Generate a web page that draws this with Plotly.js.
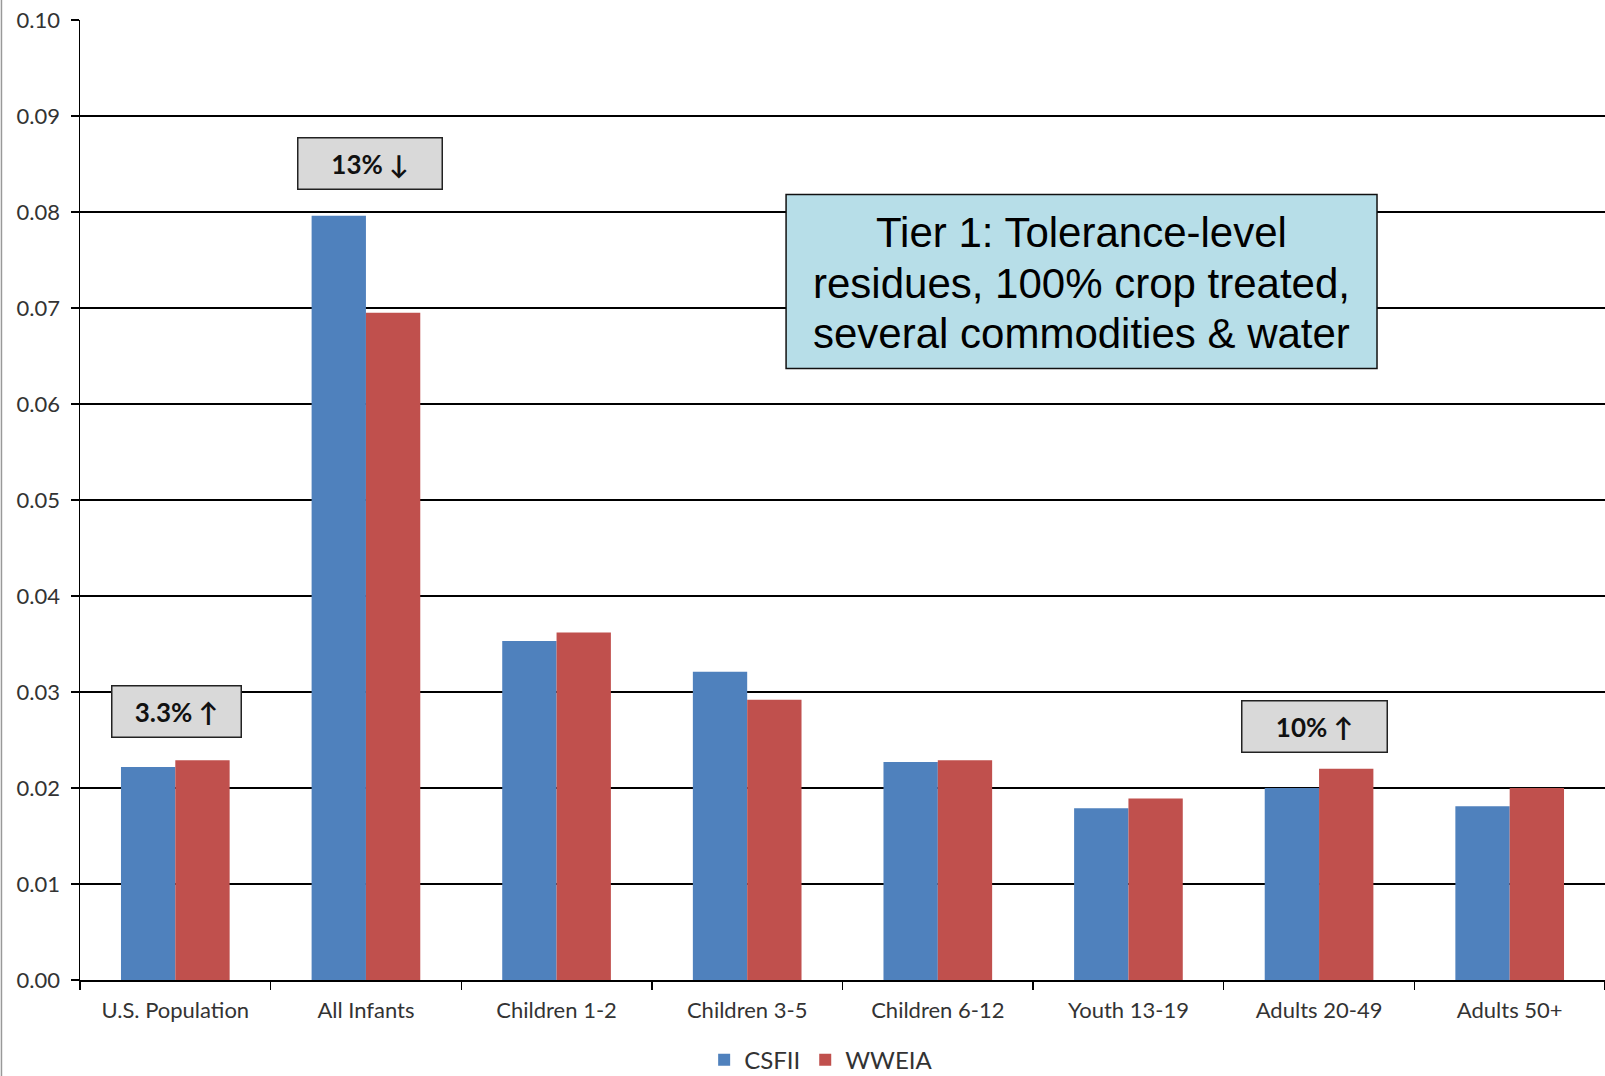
<!DOCTYPE html>
<html>
<head>
<meta charset="utf-8">
<script src="https://cdn.plot.ly/plotly-3.0.1.min.js"></script>
<style>html,body{margin:0;padding:0;background:#fff;}#chart{width:1605px;height:1076px;}</style>
</head>
<body>
<div id="chart"></div>
<script>
const categories = ["U.S. Population", "All Infants", "Children 1-2", "Children 3-5", "Children 6-12", "Youth 13-19", "Adults 20-49", "Adults 50+"];
const csfii = [0.0222, 0.0796, 0.0353, 0.0321, 0.0227, 0.0179, 0.0200, 0.0181];
const wweia = [0.0229, 0.0695, 0.0362, 0.0292, 0.0229, 0.0189, 0.0220, 0.0200];
const seriesNames = ["CSFII", "WWEIA"];
const yTicks = [0, 0.01, 0.02, 0.03, 0.04, 0.05, 0.06, 0.07, 0.08, 0.09, 0.10];
const yTickText = ["0.00", "0.01", "0.02", "0.03", "0.04", "0.05", "0.06", "0.07", "0.08", "0.09", "0.10"];
const notes = ["13% \u2193", "3.3% \u2191", "10% \u2191"];
const boxLines = ["Tier 1: Tolerance-level", "residues, 100% crop treated,", "several commodities &amp; water"];

const tickFont = {family: "Lato, 'Open Sans', sans-serif", size: 22, color: "#333"};

const traces = [
  {type: "bar", name: seriesNames[0], x: categories, y: csfii, marker: {color: "#4F81BD"}},
  {type: "bar", name: seriesNames[1], x: categories, y: wweia, marker: {color: "#C0504D"}}
];

function noteBox(text, x, y, w, h) {
  return {
    text: "<b>" + text + "</b>", xref: "paper", yref: "paper", x: x, y: y,
    xanchor: "center", yanchor: "middle", showarrow: false,
    width: w - 3, height: h - 3, bgcolor: "#D9D9D9", bordercolor: "#222",
    borderwidth: 1.5, borderpad: 0,
    font: {family: "Lato, 'Open Sans', sans-serif", size: 26, color: "#111"}
  };
}

const lineY = [0.7788, 0.7255, 0.6732];
const tierLines = boxLines.map((t, i) => ({
  text: t, xref: "paper", yref: "paper", x: 0.6567, y: lineY[i],
  xanchor: "center", yanchor: "middle", showarrow: false,
  font: {family: "'Liberation Sans', Arial, sans-serif", size: 42, color: "#000"}
}));

const layout = {
  width: 1605, height: 1076,
  margin: {l: 80, r: 0, t: 20, b: 96, autoexpand: false},
  paper_bgcolor: "#fff", plot_bgcolor: "#fff",
  barmode: "group", bargap: 0.43, bargroupgap: 0,
  showlegend: true,
  legend: {orientation: "h", x: 0.486, xanchor: "center", y: -0.0835, yanchor: "middle",
           font: {family: "Lato, 'Open Sans', sans-serif", size: 24, color: "#333"},
           itemwidth: 30, traceorder: "normal"},
  xaxis: {
    type: "category", tickfont: tickFont, ticks: "outside", ticklen: 8, tickwidth: 1.3,
    tickcolor: "#000", tickson: "boundaries", showline: true, linecolor: "#000", linewidth: 1.5,
    showgrid: false, zeroline: false, automargin: false, ticklabelstandoff: 10
  },
  yaxis: {
    range: [0, 0.10], tickvals: yTicks, ticktext: yTickText, tickfont: tickFont,
    ticks: "outside", ticklen: 8, tickwidth: 1.3, tickcolor: "#000",
    showline: true, linecolor: "#000", linewidth: 1.5, ticklabelstandoff: 6,
    showgrid: true, gridcolor: "#000", gridwidth: 1.3, zeroline: false, automargin: false
  },
  shapes: [
    {type: "line", xref: "paper", yref: "paper", x0: -0.0515, x1: -0.0515, y0: -0.1, y1: 1.03,
     line: {color: "#999", width: 1.5}},
    {type: "rect", xref: "paper", yref: "paper", x0: 0.4630, x1: 0.8505, y0: 0.6370, y1: 0.8182,
     fillcolor: "#B7DEE8", line: {color: "#111", width: 1.5}, layer: "above"}
  ],
  annotations: [
    noteBox(notes[0], 0.190, 0.8505, 146, 53),
    noteBox(notes[1], 0.063, 0.280, 131, 53),
    noteBox(notes[2], 0.8095, 0.264, 147, 53)
  ].concat(tierLines)
};

Plotly.newPlot("chart", traces, layout, {displayModeBar: false, staticPlot: true});
</script>
</body>
</html>
